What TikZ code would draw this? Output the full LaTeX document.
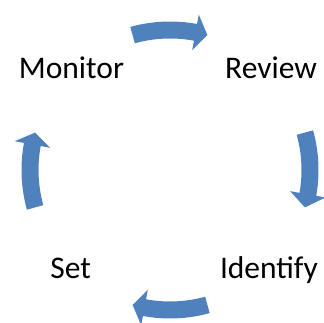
\documentclass[tikz,border=0pt]{standalone}
\usepackage{fontspec}
\setmainfont{Carlito}
\definecolor{cyc}{RGB}{79,129,189}
\newcommand\cycarrow[3]{%
  \fill[cyc] (#1:148.5pt) arc[start angle=#1, end angle=#2, radius=148.5pt]
    -- (#2:158pt) -- (#3:140pt) -- (#2:122pt) -- (#2:131.5pt)
    arc[start angle=#2, end angle=#1, radius=131.5pt] -- cycle;}
\begin{document}
\begin{tikzpicture}[lbl/.style={font=\fontsize{31.5}{36}\selectfont, inner sep=0pt, anchor=base}]
\useasboundingbox (0,0) rectangle (324pt,323pt);
\node[lbl] (monitor) at (71.5pt,244pt) {Monitor};
\node[lbl] (review) at (271pt,244pt) {Review};
\node[lbl] (identify) at (269pt,44pt) {Identify};
\node[lbl] (set) at (70.7pt,44pt) {Set};
\begin{scope}[shift={(170pt,153pt)}]
\cycarrow{105.5}{79.5}{74.5}
\cycarrow{15.5}{-10}{-15.5}
\cycarrow{285.5}{259.5}{254.5}
\cycarrow{195.5}{169.5}{164.5}
\end{scope}
\end{tikzpicture}
\end{document}
